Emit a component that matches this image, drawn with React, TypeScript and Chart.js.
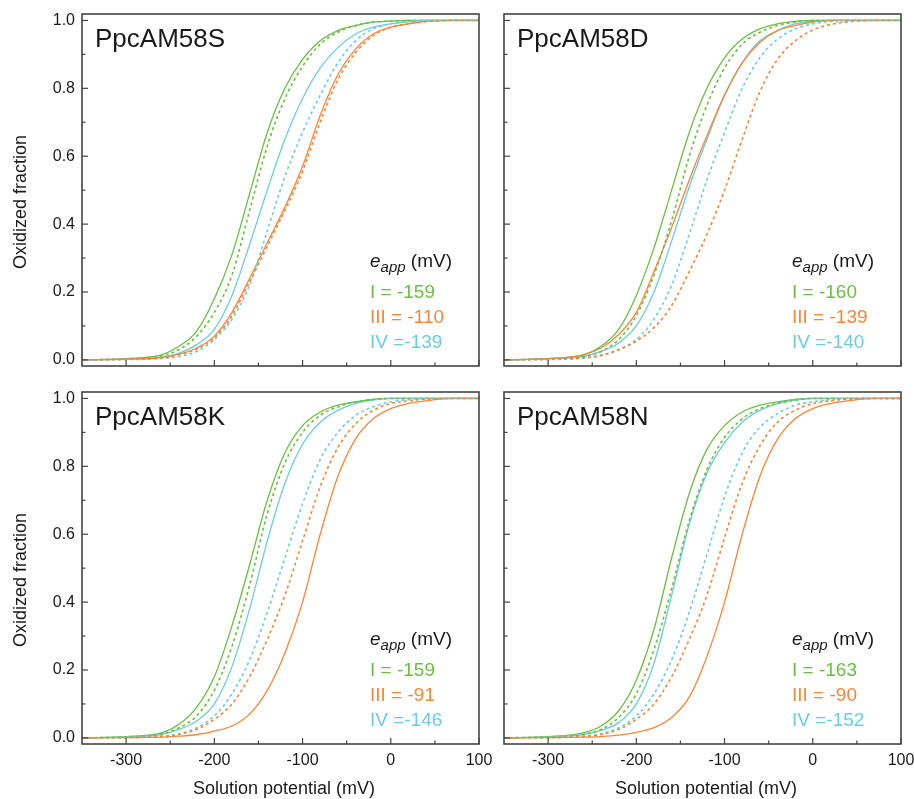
import React, { useEffect, useRef } from 'react';
import { Chart, registerables } from 'chart.js';

Chart.register(...registerables);

// ---------- data ----------
const POTENTIAL_MV = [-350, -300, -260, -240, -220, -200, -180, -160, -140, -120, -100, -80, -60, -40, -20, 0, 20, 40, 70, 100];

// PpcAM58S
const S_I = [0, 0.004, 0.015, 0.04, 0.085, 0.18, 0.31, 0.49, 0.67, 0.8, 0.885, 0.94, 0.97, 0.985, 0.995, 0.998, 1, 1, 1, 1];
const S_I_DASH = [0, 0.003, 0.012, 0.03, 0.07, 0.14, 0.25, 0.44, 0.63, 0.77, 0.865, 0.93, 0.965, 0.985, 0.995, 0.998, 1, 1, 1, 1];
const S_III = [0, 0.002, 0.007, 0.017, 0.035, 0.07, 0.14, 0.24, 0.345, 0.45, 0.57, 0.72, 0.84, 0.915, 0.96, 0.98, 0.99, 0.997, 1, 1];
const S_III_DASH = [0, 0.002, 0.006, 0.015, 0.032, 0.065, 0.13, 0.23, 0.335, 0.44, 0.555, 0.7, 0.825, 0.905, 0.955, 0.98, 0.99, 0.996, 1, 1];
const S_IV = [0, 0.002, 0.008, 0.02, 0.045, 0.09, 0.19, 0.34, 0.5, 0.65, 0.77, 0.86, 0.92, 0.96, 0.98, 0.99, 0.996, 1, 1, 1];
const S_IV_DASH = [0, 0.001, 0.004, 0.01, 0.025, 0.06, 0.12, 0.22, 0.38, 0.54, 0.67, 0.78, 0.875, 0.94, 0.975, 0.99, 0.997, 1, 1, 1];

// PpcAM58D
const D_I = [0, 0.004, 0.015, 0.04, 0.09, 0.19, 0.33, 0.5, 0.67, 0.8, 0.89, 0.945, 0.975, 0.99, 0.997, 1, 1, 1, 1, 1];
const D_I_DASH = [0, 0.003, 0.01, 0.025, 0.06, 0.13, 0.25, 0.41, 0.6, 0.75, 0.86, 0.93, 0.965, 0.985, 0.995, 1, 1, 1, 1, 1];
const D_III = [0, 0.004, 0.015, 0.035, 0.075, 0.14, 0.26, 0.39, 0.53, 0.66, 0.78, 0.875, 0.935, 0.97, 0.985, 0.995, 1, 1, 1, 1];
const D_III_DASH = [0, 0.002, 0.006, 0.014, 0.03, 0.055, 0.095, 0.16, 0.26, 0.37, 0.5, 0.65, 0.79, 0.885, 0.94, 0.972, 0.988, 0.996, 1, 1];
const D_IV = [0, 0.003, 0.01, 0.025, 0.05, 0.1, 0.2, 0.35, 0.51, 0.65, 0.78, 0.875, 0.94, 0.97, 0.99, 0.997, 1, 1, 1, 1];
const D_IV_DASH = [0, 0.001, 0.005, 0.012, 0.03, 0.06, 0.12, 0.22, 0.37, 0.53, 0.67, 0.8, 0.89, 0.945, 0.975, 0.99, 0.997, 1, 1, 1];

// PpcAM58K
const K_I = [0, 0.004, 0.015, 0.04, 0.09, 0.18, 0.33, 0.51, 0.7, 0.84, 0.92, 0.96, 0.98, 0.99, 0.997, 1, 1, 1, 1, 1];
const K_I_DASH = [0, 0.003, 0.012, 0.03, 0.065, 0.14, 0.27, 0.45, 0.66, 0.81, 0.9, 0.95, 0.975, 0.99, 0.997, 1, 1, 1, 1, 1];
const K_III = [0, 0.001, 0.002, 0.005, 0.01, 0.02, 0.035, 0.07, 0.14, 0.25, 0.4, 0.6, 0.77, 0.88, 0.94, 0.97, 0.985, 0.993, 1, 1];
const K_III_DASH = [0, 0.001, 0.004, 0.01, 0.025, 0.055, 0.1, 0.18, 0.29, 0.42, 0.58, 0.74, 0.855, 0.925, 0.965, 0.985, 0.993, 0.998, 1, 1];
const K_IV = [0, 0.003, 0.01, 0.025, 0.05, 0.1, 0.21, 0.38, 0.58, 0.75, 0.865, 0.93, 0.965, 0.985, 0.995, 1, 1, 1, 1, 1];
const K_IV_DASH = [0, 0.001, 0.005, 0.012, 0.03, 0.065, 0.13, 0.23, 0.37, 0.53, 0.69, 0.82, 0.9, 0.95, 0.975, 0.99, 0.997, 1, 1, 1];

// PpcAM58N
const N_I = [0, 0.004, 0.015, 0.035, 0.08, 0.17, 0.32, 0.53, 0.72, 0.85, 0.92, 0.96, 0.98, 0.99, 0.997, 1, 1, 1, 1, 1];
const N_I_DASH = [0, 0.003, 0.01, 0.025, 0.06, 0.13, 0.26, 0.44, 0.64, 0.79, 0.885, 0.94, 0.97, 0.985, 0.995, 1, 1, 1, 1, 1];
const N_III = [0, 0.001, 0.002, 0.004, 0.008, 0.016, 0.03, 0.06, 0.12, 0.24, 0.4, 0.6, 0.77, 0.88, 0.94, 0.97, 0.985, 0.993, 1, 1];
const N_III_DASH = [0, 0.001, 0.004, 0.01, 0.025, 0.055, 0.1, 0.18, 0.29, 0.42, 0.59, 0.75, 0.86, 0.93, 0.965, 0.985, 0.993, 0.998, 1, 1];
const N_IV = [0, 0.003, 0.01, 0.022, 0.045, 0.1, 0.22, 0.42, 0.63, 0.78, 0.87, 0.93, 0.965, 0.985, 0.995, 1, 1, 1, 1, 1];
const N_IV_DASH = [0, 0.001, 0.005, 0.012, 0.03, 0.065, 0.13, 0.23, 0.37, 0.54, 0.71, 0.84, 0.915, 0.955, 0.98, 0.99, 0.997, 1, 1, 1];

const PANEL_TITLES = ['PpcAM58S', 'PpcAM58D', 'PpcAM58K', 'PpcAM58N'];
const EAPP_I = ['-159', '-160', '-159', '-163'];
const EAPP_III = ['-110', '-139', '-91', '-90'];
const EAPP_IV = ['-139', '-140', '-146', '-152'];

const X_MAJOR_TICKS = [-300, -200, -100, 0, 100];
const X_MINOR_TICKS = [-250, -150, -50, 50];
const Y_MAJOR_TICKS = [0, 0.2, 0.4, 0.6, 0.8, 1.0];
const Y_MINOR_TICKS = [0.1, 0.3, 0.5, 0.7, 0.9];

const X_TITLE = 'Solution potential (mV)';
const Y_TITLE = 'Oxidized fraction';

// ---------- styles ----------
const GREEN = '#6cbd45';
const ORANGE = '#f5873a';
const CYAN = '#6dcbe0';
const AXIS = '#444444';
const TEXT = '#1a1a1a';
const FONT = '"Liberation Sans", Arial, sans-serif';

const SERIES = [
  [S_I, S_I_DASH, S_III, S_III_DASH, S_IV, S_IV_DASH],
  [D_I, D_I_DASH, D_III, D_III_DASH, D_IV, D_IV_DASH],
  [K_I, K_I_DASH, K_III, K_III_DASH, K_IV, K_IV_DASH],
  [N_I, N_I_DASH, N_III, N_III_DASH, N_IV, N_IV_DASH],
];

const decoPlugin = {
  id: 'deco',
  afterDraw(chart: any, _args: any, opts: any) {
    const { ctx, chartArea: a } = chart;
    const x = chart.scales.x;
    const y = chart.scales.y;
    ctx.save();
    ctx.strokeStyle = AXIS;
    ctx.lineWidth = 1.2;
    const seg = (x1: number, y1: number, x2: number, y2: number) => {
      ctx.beginPath();
      ctx.moveTo(x1, y1);
      ctx.lineTo(x2, y2);
      ctx.stroke();
    };
    X_MAJOR_TICKS.forEach((v) => { const p = x.getPixelForValue(v); seg(p, a.bottom, p, a.bottom - 6); });
    X_MINOR_TICKS.forEach((v) => { const p = x.getPixelForValue(v); seg(p, a.bottom, p, a.bottom - 3.5); });
    Y_MAJOR_TICKS.forEach((v) => { const p = y.getPixelForValue(v); seg(a.left, p, a.left + 6, p); });
    Y_MINOR_TICKS.forEach((v) => { const p = y.getPixelForValue(v); seg(a.left, p, a.left + 3.5, p); });
    ctx.lineWidth = 1.6;
    ctx.strokeRect(a.left, a.top, a.right - a.left, a.bottom - a.top);

    // panel title
    ctx.fillStyle = TEXT;
    ctx.textAlign = 'left';
    ctx.textBaseline = 'alphabetic';
    ctx.font = `26px ${FONT}`;
    ctx.fillText(opts.title, a.left + 13, a.top + 33);

    // legend block
    const lx = a.left + 288;
    ctx.font = `italic 19px ${FONT}`;
    ctx.fillText('e', lx, a.top + 253);
    const ew = ctx.measureText('e').width;
    ctx.font = `italic 15px ${FONT}`;
    ctx.fillText('app', lx + ew, a.top + 258);
    const aw = ctx.measureText('app').width;
    ctx.font = `19px ${FONT}`;
    ctx.fillText(' (mV)', lx + ew + aw, a.top + 253);
    ctx.fillStyle = GREEN;
    ctx.fillText('I = ' + opts.eI, lx, a.top + 284);
    ctx.fillStyle = ORANGE;
    ctx.fillText('III = ' + opts.eIII, lx, a.top + 309);
    ctx.fillStyle = CYAN;
    ctx.fillText('IV =' + opts.eIV, lx, a.top + 334);

    // axis titles
    ctx.fillStyle = TEXT;
    ctx.font = `18px ${FONT}`;
    if (opts.yTitle) {
      ctx.save();
      ctx.translate(21, a.top + 188);
      ctx.rotate(-Math.PI / 2);
      ctx.textAlign = 'center';
      ctx.textBaseline = 'middle';
      ctx.fillText(Y_TITLE, 0, 0);
      ctx.restore();
    }
    if (opts.xTitle) {
      ctx.textAlign = 'center';
      ctx.textBaseline = 'middle';
      ctx.fillText(X_TITLE, a.left + 202, a.bottom + 45);
    }
    ctx.restore();
  },
};

type PanelProps = {
  idx: number;
  left: number;
  top: number;
  width: number;
  height: number;
  yAxisW: number;
  xAxisH: number;
  padTop: number;
  padRight: number;
  showY: boolean;
  showX: boolean;
};

function Panel(p: PanelProps) {
  const ref = useRef<HTMLCanvasElement | null>(null);
  useEffect(() => {
    if (!ref.current) return;
    const [cI, cId, cIII, cIIId, cIV, cIVd] = SERIES[p.idx];
    const mk = (vals: number[], color: string, dashed: boolean) => ({
      data: POTENTIAL_MV.map((v, i) => ({ x: v, y: vals[i] })),
      borderColor: color,
      borderWidth: dashed ? 1.6 : 1.3,
      borderDash: dashed ? [3, 3] : [],
      pointRadius: 0,
      fill: false,
      cubicInterpolationMode: 'monotone' as const,
    });
    const chart = new Chart(ref.current, {
      type: 'line',
      data: {
        datasets: [
          mk(cIIId, ORANGE, true),
          mk(cIVd, CYAN, true),
          mk(cId, GREEN, true),
          mk(cIII, ORANGE, false),
          mk(cIV, CYAN, false),
          mk(cI, GREEN, false),
        ],
      },
      options: {
        animation: false,
        responsive: false,
        maintainAspectRatio: false,
        events: [],
        layout: { padding: { top: p.padTop, right: p.padRight, left: 0, bottom: 0 } },
        plugins: {
          legend: { display: false },
          tooltip: { enabled: false },
          deco: {
            title: PANEL_TITLES[p.idx],
            eI: EAPP_I[p.idx],
            eIII: EAPP_III[p.idx],
            eIV: EAPP_IV[p.idx],
            yTitle: p.showY,
            xTitle: p.showX,
          },
        } as any,
        scales: {
          x: {
            type: 'linear',
            min: -350,
            max: 100,
            grid: { display: false, drawTicks: false },
            border: { display: false },
            afterBuildTicks: (s: any) => { s.ticks = X_MAJOR_TICKS.map((v) => ({ value: v })); },
            afterFit: (s: any) => { s.height = p.xAxisH; s.paddingLeft = 0; s.paddingRight = 0; },
            ticks: {
              display: p.showX,
              autoSkip: false,
              maxRotation: 0,
              padding: 7,
              color: TEXT,
              font: { family: FONT, size: 16 },
              callback: (v: any) => String(v),
            },
          },
          y: {
            type: 'linear',
            min: -0.018,
            max: 1.019,
            grid: { display: false, drawTicks: false },
            border: { display: false },
            afterBuildTicks: (s: any) => { s.ticks = Y_MAJOR_TICKS.map((v) => ({ value: v })); },
            afterFit: (s: any) => { s.width = p.yAxisW; s.paddingTop = 0; s.paddingBottom = 0; },
            ticks: {
              display: p.showY,
              autoSkip: false,
              padding: 7,
              color: TEXT,
              font: { family: FONT, size: 16 },
              callback: (v: any) => Number(v).toFixed(1),
            },
          },
        },
      },
      plugins: [decoPlugin],
    });
    return () => chart.destroy();
  }, []);
  return (
    <canvas
      ref={ref}
      width={p.width}
      height={p.height}
      style={{ position: 'absolute', left: p.left, top: p.top, width: p.width, height: p.height }}
    />
  );
}

export default function App() {
  return (
    <div style={{ position: 'fixed', left: 0, top: 0, width: 914, height: 799, background: '#fff', overflow: 'hidden' }}>
      <Panel idx={0} left={0} top={0} width={500} height={380} yAxisW={82} xAxisH={14} padTop={14} padRight={21} showY={true} showX={false} />
      <Panel idx={2} left={0} top={380} width={500} height={419} yAxisW={82} xAxisH={55} padTop={12} padRight={21} showY={true} showX={true} />
      <Panel idx={1} left={490} top={0} width={424} height={380} yAxisW={14} xAxisH={14} padTop={14} padRight={13} showY={false} showX={false} />
      <Panel idx={3} left={490} top={380} width={424} height={419} yAxisW={14} xAxisH={55} padTop={12} padRight={13} showY={false} showX={true} />
    </div>
  );
}
